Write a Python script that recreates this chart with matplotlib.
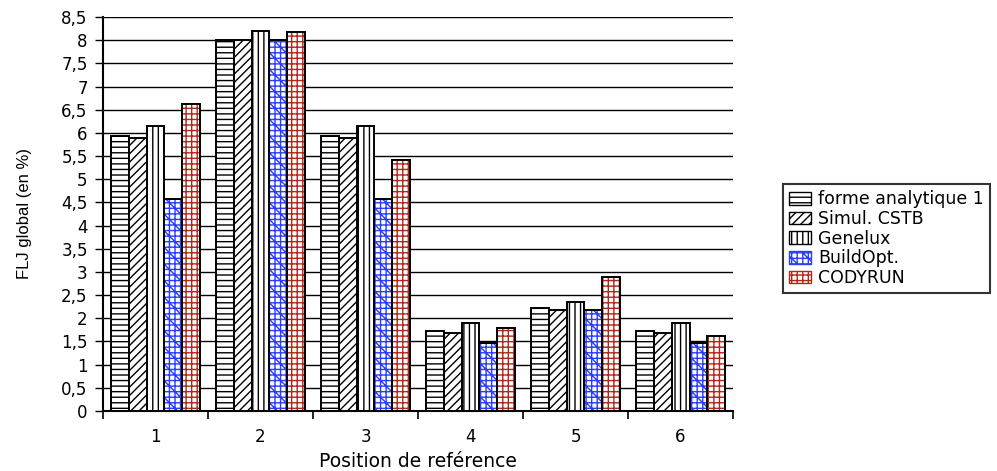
import numpy as np
import matplotlib
matplotlib.use("Agg")
import matplotlib.pyplot as plt
import matplotlib.patches as mpatches
from matplotlib.ticker import FuncFormatter, MultipleLocator

plt.rcParams["font.family"] = ["DejaVu Sans"]
plt.rcParams["hatch.linewidth"] = 1.0

positions = [1, 2, 3, 4, 5, 6]
series_names = ["forme analytique 1", "Simul. CSTB", "Genelux", "BuildOpt.", "CODYRUN"]
forme_analytique = [5.93, 8.0, 5.93, 1.72, 2.22, 1.72]
simul_cstb = [5.90, 8.0, 5.90, 1.68, 2.18, 1.68]
genelux = [6.15, 8.2, 6.15, 1.90, 2.35, 1.90]
buildopt = [4.57, 8.0, 4.57, 1.47, 2.18, 1.47]
codyrun = [6.62, 8.17, 5.42, 1.80, 2.90, 1.62]
series = [forme_analytique, simul_cstb, genelux, buildopt, codyrun]

hatches = ["---", "////", "|||", "+++\\\\", "+++"]
hatch_colors = ["black", "black", "black", "#2a3cff", "#b0281c"]

fig = plt.figure(figsize=(9.97, 4.71), dpi=100)
ax = fig.add_axes([0.1033, 0.1274, 0.632, 0.8365])

x = np.array(positions, dtype=float)
width = 0.17
for i, vals in enumerate(series):
    off = (i - 2) * width
    # hatch layer (hatch colour follows edgecolor)
    ax.bar(x + off, vals, width, facecolor="white", edgecolor=hatch_colors[i],
           hatch=hatches[i], linewidth=0, zorder=3)
    # black outline on top
    ax.bar(x + off, vals, width, facecolor="none", edgecolor="black",
           linewidth=1.4, zorder=4)

ax.set_ylim(0, 8.5)
ax.set_xlim(0.5, 6.5)
ax.yaxis.set_major_locator(MultipleLocator(0.5))
ax.yaxis.set_major_formatter(FuncFormatter(lambda v, p: f"{v:g}".replace(".", ",")))
ax.grid(axis="y", color="black", linewidth=1.0, zorder=0)
ax.set_axisbelow(True)

ax.set_xticks(positions)
ax.set_xticklabels([str(p) for p in positions])
ax.set_xticks(np.arange(0.5, 7.0, 1.0), minor=True)
ax.tick_params(axis="x", which="major", length=0, pad=12, labelsize=12)
ax.tick_params(axis="x", which="minor", length=6, width=1.2, direction="out")
ax.tick_params(axis="y", length=6, width=1.0, direction="out", labelsize=12, pad=5)

for s in ["top", "right"]:
    ax.spines[s].set_visible(False)
ax.spines["left"].set_linewidth(1.5)
ax.spines["bottom"].set_linewidth(1.5)

ax.set_xlabel("Position de reférence", fontsize=13.5)
ax.xaxis.set_label_coords(0.5, -0.103)
ax.set_ylabel("FLJ global (en %)", fontsize=12, family=["Liberation Sans"])
ax.yaxis.set_label_coords(-0.112, 0.5)

handles = [mpatches.Patch(facecolor="white", edgecolor=hatch_colors[i], hatch=hatches[i],
                          label=series_names[i]) for i in range(5)]
leg = fig.legend(handles=handles, loc="upper left", bbox_to_anchor=(0.7854, 0.609),
                 fontsize=12.5, frameon=True, fancybox=False, edgecolor="black",
                 handlelength=1.26, handleheight=0.75, handletextpad=0.4,
                 labelspacing=0.1, borderpad=0.35, borderaxespad=0)
leg.get_frame().set_linewidth(1.5)

fig.savefig("out.png", dpi=100)
